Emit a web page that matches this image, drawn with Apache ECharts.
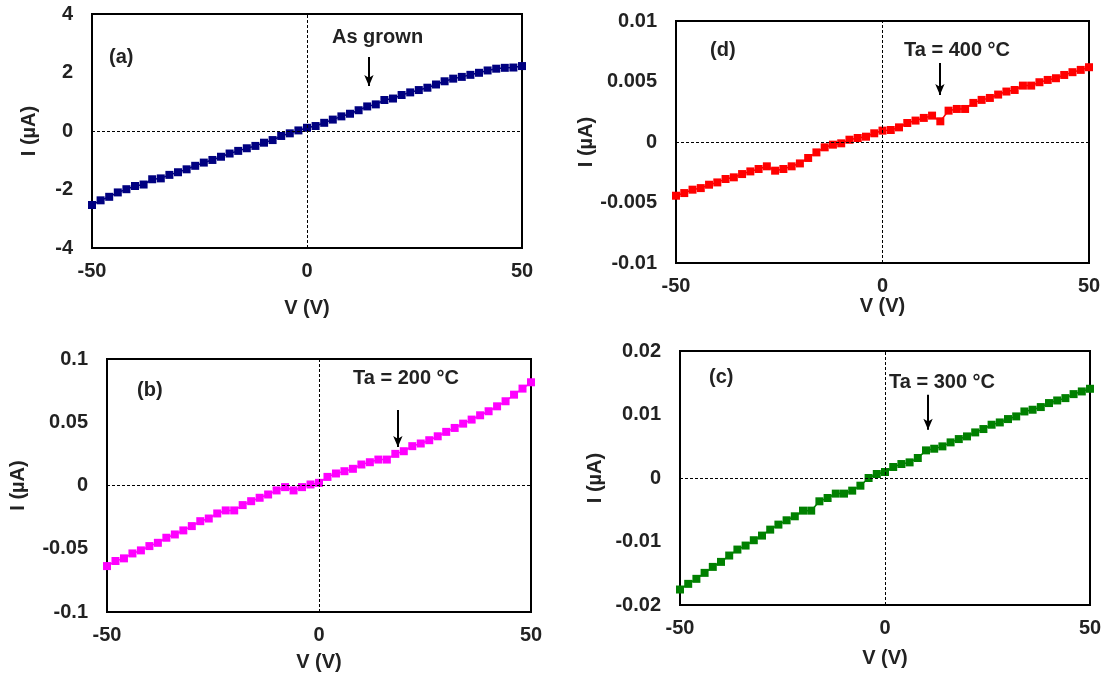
<!DOCTYPE html>
<html>
<head>
<meta charset="utf-8">
<title>I-V curves</title>
<script src="https://cdn.jsdelivr.net/npm/echarts@6/dist/echarts.min.js"></script>
<style>
html, body { margin: 0; padding: 0; background: #fff; }
#main { width: 1105px; height: 677px; }
</style>
</head>
<body>
<div id="main"></div>
<script>
// voltage sweep (V)
var volts = [-50, -48, -46, -44, -42, -40, -38, -36, -34, -32, -30, -28, -26, -24, -22, -20, -18, -16, -14, -12, -10,
             -8, -6, -4, -2, 0, 2, 4, 6, 8, 10, 12, 14, 16, 18, 20, 22, 24, 26, 28, 30, 32, 34, 36, 38, 40, 42, 44, 46, 48, 50];

// (a) as grown, uA
var curAsGrown = [-2.53, -2.37, -2.25, -2.10, -1.99, -1.88, -1.83, -1.65, -1.62, -1.50, -1.41, -1.31, -1.19, -1.08, -0.99, -0.88, -0.77, -0.68, -0.59, -0.51, -0.40,
                  -0.31, -0.17, -0.08, 0.02, 0.11, 0.17, 0.28, 0.39, 0.50, 0.59, 0.71, 0.84, 0.91, 1.06, 1.11, 1.23, 1.32, 1.40, 1.48, 1.59, 1.70, 1.79, 1.85, 1.92, 1.99, 2.07, 2.13, 2.16, 2.17, 2.22];

// (b) Ta = 200 C, uA
var cur200 = [-0.0637, -0.0597, -0.0576, -0.0537, -0.0513, -0.0479, -0.0453, -0.0413, -0.0387, -0.0355, -0.0321, -0.0282, -0.0261, -0.0221, -0.0197, -0.0197, -0.0155, -0.0124, -0.0097, -0.0071, -0.0039,
              -0.0013, -0.0039, -0.0013, 0.0008, 0.0021, 0.0068, 0.0095, 0.0113, 0.0132, 0.0166, 0.0184, 0.0205, 0.0205, 0.0250, 0.0271, 0.0311, 0.0332, 0.0358, 0.0389, 0.0424, 0.0455, 0.0489, 0.0521, 0.0555, 0.0587, 0.0626, 0.0666, 0.0718, 0.0766, 0.0816];

// (c) Ta = 300 C, uA
var cur300 = [-0.01756, -0.01667, -0.01588, -0.01494, -0.01400, -0.01321, -0.01221, -0.01127, -0.01064, -0.00980, -0.00907, -0.00813, -0.00734, -0.00666, -0.00603, -0.00514, -0.00514, -0.00367, -0.00315, -0.00246, -0.00246,
              -0.00199, -0.00121, 0.00000, 0.00063, 0.00094, 0.00173, 0.00220, 0.00246, 0.00315, 0.00435, 0.00461, 0.00498, 0.00561, 0.00613, 0.00655, 0.00718, 0.00771, 0.00839, 0.00875, 0.00928, 0.00970, 0.01048, 0.01075, 0.01117, 0.01180, 0.01221, 0.01258, 0.01321, 0.01363, 0.01405];

// (d) Ta = 400 C, uA
var cur400 = [-0.00444, -0.00422, -0.00394, -0.00381, -0.00353, -0.00334, -0.00306, -0.00292, -0.00265, -0.00243, -0.00223, -0.00201, -0.00237, -0.00223, -0.00201, -0.00177, -0.00132, -0.00086, -0.00044, -0.00022, -0.00011,
              0.00019, 0.00033, 0.00044, 0.00072, 0.00094, 0.00099, 0.00121, 0.00157, 0.00177, 0.00199, 0.00218, 0.00171, 0.00259, 0.00273, 0.00273, 0.00323, 0.00348, 0.00364, 0.00392, 0.00417, 0.00430, 0.00466, 0.00466, 0.00494, 0.00513, 0.00527, 0.00554, 0.00577, 0.00596, 0.00618];

// y axis ranges [min, max, step] per panel
var yRangeA = [-4, 4, 2];
var yRangeB = [-0.1, 0.1, 0.05];
var yRangeC = [-0.02, 0.02, 0.01];
var yRangeD = [-0.01, 0.01, 0.005];

// arrow positions [V, I start, I end]
var arrowA = [14.4, 2.53, 1.54];
var arrowB = [18.6, 0.0597, 0.0304];
var arrowC = [10.5, 0.0131, 0.0076];
var arrowD = [13.9, 0.00653, 0.00388];

var FONT = 'Liberation Sans, Arial, sans-serif';

function pairs(ys) {
    var out = [];
    for (var i = 0; i < volts.length; i++) out.push([volts[i], ys[i]]);
    return out;
}

function xAx(idx, nameGap) {
    return {
        gridIndex: idx, type: 'value', min: -50, max: 50, interval: 50,
        name: 'V (V)', nameLocation: 'middle', nameGap: nameGap,
        nameTextStyle: { fontFamily: FONT, fontWeight: 'bold', fontSize: 20, color: '#222' },
        axisLine: { show: false }, axisTick: { show: false }, splitLine: { show: false },
        axisLabel: { margin: 13, fontFamily: FONT, fontWeight: 'bold', fontSize: 20, color: '#222' }
    };
}

function yAx(idx, r, nameGap) {
    return {
        gridIndex: idx, type: 'value', min: r[0], max: r[1], interval: r[2],
        name: 'I (µA)', nameLocation: 'middle', nameGap: nameGap,
        nameTextStyle: { fontFamily: FONT, fontWeight: 'bold', fontSize: 20, color: '#222' },
        axisLine: { show: false }, axisTick: { show: false }, splitLine: { show: false },
        axisLabel: { margin: 19, fontFamily: FONT, fontWeight: 'bold', fontSize: 20, color: '#222' }
    };
}

function ser(idx, ys, color, arrow) {
    return {
        type: 'line', xAxisIndex: idx, yAxisIndex: idx,
        data: pairs(ys),
        symbol: 'rect', symbolSize: 8,
        itemStyle: { color: color },
        lineStyle: { color: color, width: 1.5 },
        markLine: {
            silent: true, animation: false,
            symbol: 'none',
            label: { show: false },
            lineStyle: { color: '#000', width: 1, type: [3, 2] },
            data: [
                { xAxis: 0 },
                { yAxis: 0 },
                [
                    { coord: [arrow[0], arrow[1]], symbol: 'none', lineStyle: { color: '#000', width: 2, type: 'solid' } },
                    { coord: [arrow[0], arrow[2]], symbol: 'arrow', symbolSize: [7, 11] }
                ]
            ]
        }
    };
}

function txt(left, top, s) {
    return {
        type: 'text', left: left, top: top,
        style: { text: s, fill: '#222', font: 'bold 20px ' + FONT }
    };
}

var chart = echarts.init(document.getElementById('main'));
chart.setOption({
    animation: false,
    backgroundColor: '#fff',
    grid: [
        { left: 92, top: 14, width: 430, height: 234, show: true, borderColor: '#000', borderWidth: 2 },
        { left: 107, top: 359, width: 424, height: 253, show: true, borderColor: '#000', borderWidth: 2 },
        { left: 680, top: 351, width: 410, height: 254, show: true, borderColor: '#000', borderWidth: 2 },
        { left: 676, top: 21, width: 413, height: 242, show: true, borderColor: '#000', borderWidth: 2 }
    ],
    xAxis: [xAx(0, 50), xAx(1, 40), xAx(2, 43), xAx(3, 30)],
    yAxis: [yAx(0, yRangeA, 53), yAx(1, yRangeB, 79), yAx(2, yRangeC, 75), yAx(3, yRangeD, 78)],
    series: [
        ser(0, curAsGrown, '#000080', arrowA),
        ser(1, cur200, '#ff00ff', arrowB),
        ser(2, cur300, '#008000', arrowC),
        ser(3, cur400, '#ff0000', arrowD)
    ],
    graphic: [
        txt(109, 47, '(a)'),
        txt(332, 27, 'As grown'),
        txt(137, 380, '(b)'),
        txt(353, 368, 'Ta = 200 °C'),
        txt(709, 367, '(c)'),
        txt(889, 372, 'Ta = 300 °C'),
        txt(710, 40, '(d)'),
        txt(904, 40, 'Ta = 400 °C')
    ]
});
</script>
</body>
</html>
